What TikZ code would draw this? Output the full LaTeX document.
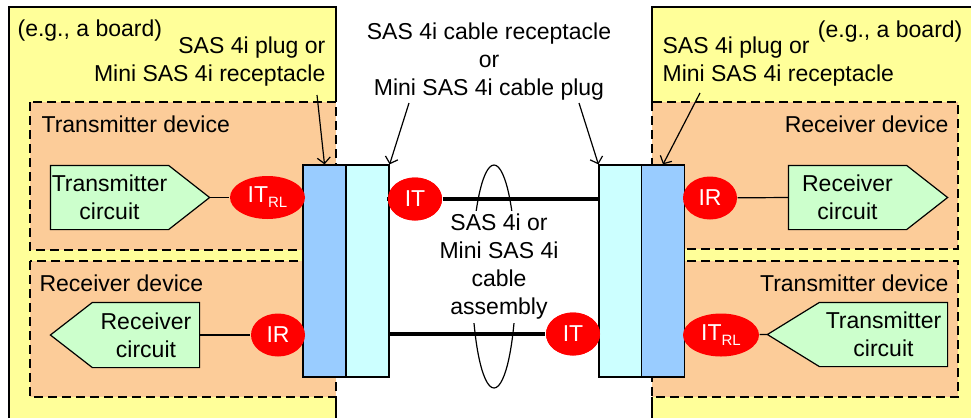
\documentclass[tikz,border=0pt]{standalone}
\usepackage{fontspec}
\setmainfont{Liberation Sans}
\usetikzlibrary{shapes.geometric,arrows.meta}
\definecolor{boardyellow}{RGB}{255,255,153}
\definecolor{devorange}{RGB}{252,204,153}
\definecolor{circgreen}{RGB}{204,255,204}
\definecolor{plugblue}{RGB}{153,204,255}
\definecolor{rcptcyan}{RGB}{204,255,255}
\begin{document}
\begin{tikzpicture}[x=1pt, y=-1pt, >={Straight Barb[length=6pt,width=13pt]}, line width=1.2pt,
	every node/.style={font=\fontsize{23}{28}\selectfont, inner sep=0pt},
	device/.style={fill=devorange, draw, line width=1.6pt, dash pattern=on 9pt off 5pt},
	plug/.style={fill=plugblue, draw, minimum width=43pt, minimum height=212pt},
	rcpt/.style={fill=rcptcyan, draw, minimum width=43pt, minimum height=212pt},
	circbox/.style={minimum height=63pt},
	circ/.style={fill=circgreen, draw, line join=miter},
	probe/.style={ellipse, fill=red, text=white, minimum height=43pt},
	cable/.style={line width=3.5pt}]
	\useasboundingbox (0,0) rectangle (971,418);
	
	% 1. 板卡底色与实线边框
	\fill[boardyellow] (9,7) rectangle (336,418);
	\draw (9,418) -- (9,7) -- (336,7) -- (336,102);
	\draw (336,250) -- (336,261) (336,397) -- (336,418);
	\fill[boardyellow] (652,7) rectangle (971,418);
	\draw (652,102) -- (652,7) -- (971,7);
	\draw (652,249) -- (652,261) (652,397) -- (652,418);
	
	% 2. 器件虚线框
	\draw[device] (30,102) rectangle (336,250);
	\draw[device] (30,261) rectangle (336,397);
	\draw[device] (652,102) rectangle (958,249);
	\draw[device] (652,261) rectangle (958,397);
	\node[anchor=west] (ltxdev) at (41,124) {Transmitter device};
	\node[anchor=west] (lrxdev) at (39,283) {Receiver device};
	\node[anchor=east] (rrxdev) at (949,124) {Receiver device};
	\node[anchor=east] (rtxdev) at (949,283) {Transmitter device};
	
	% 3. 插头与插座
	\node[plug] (lplug) at (324.5,271) {};
	\node[rcpt] (lrcpt) at (367.5,271) {};
	\node[rcpt] (rrcpt) at (620.5,271) {};
	\node[plug] (rplug) at (663,271) {};
	
	% 4. 线缆组件 (椭圆环被文字遮住中段)
	\draw (494,276.5) ellipse [x radius=22, y radius=111.5];
	\node[fill=white, inner sep=3pt, align=center] (cabletxt) at (499,267) {SAS 4i or\\Mini SAS 4i\\cable\\assembly};
	\node[probe, minimum width=54pt] (lit) at (415,199) {IT};
	\node[probe, minimum width=54pt] (rit) at (573,334) {IT};
	\draw[cable] (lrcpt.east |- lit) -- (lit);
	\draw[cable] (lit) -- (rrcpt.west |- lit);
	\draw[cable] (lrcpt.east |- rit) -- (rit);
	\node[probe, minimum width=54pt] at (rit) {IT};
	\node[probe, minimum width=54pt] at (lit) {IT};
	
	% 5. 收发电路 (五边形箭头) 与测试点
	\node[circbox, minimum width=117pt] (ltx) at (109.5,197.5) {};
	\coordinate (ltxtip) at ([xshift=41pt]ltx.east);
	\draw[circ] (ltx.north west) -- (ltx.north east) -- (ltxtip) -- (ltx.south east) -- (ltx.south west) -- cycle;
	\node[align=center] (ltxtxt) at (ltx) {Transmitter\\circuit};
	
	\node[circbox, minimum width=106pt, minimum height=64pt] (lrx) at (146,335) {};
	\coordinate (lrxtip) at ([xshift=-42pt]lrx.west);
	\draw[circ] (lrx.north east) -- (lrx.north west) -- (lrxtip) -- (lrx.south west) -- (lrx.south east) -- cycle;
	\node[align=center] (lrxtxt) at (lrx) {Receiver\\circuit};
	
	\node[circbox, minimum width=117pt] (rrx) at (847.5,197.5) {};
	\coordinate (rrxtip) at ([xshift=41pt]rrx.east);
	\draw[circ] (rrx.north west) -- (rrx.north east) -- (rrxtip) -- (rrx.south east) -- (rrx.south west) -- cycle;
	\node[align=center] (rrxtxt) at (rrx) {Receiver\\circuit};
	
	\node[circbox, minimum width=127pt] (rtx) at (883.5,334.5) {};
	\coordinate (rtxtip) at ([xshift=-52pt]rtx.west);
	\draw[circ] (rtx.north east) -- (rtx.north west) -- (rtxtip) -- (rtx.south west) -- (rtx.south east) -- cycle;
	\node[align=center] (rtxtxt) at (rtx) {Transmitter\\circuit};
	
	\node[probe, minimum width=75pt] (litrl) at (267.5,197.5) {IT\raisebox{-5pt}{\fontsize{15}{15}\selectfont RL}};
	\node[probe, minimum width=54pt] (lir) at (278,335) {IR};
	\node[probe, minimum width=54pt] (rir) at (710,198) {IR};
	\node[probe, minimum width=76pt] (ritrl) at (721,335) {IT\raisebox{-5pt}{\fontsize{15}{15}\selectfont RL}};
	\draw (ltxtip) -- (litrl);
	\draw (lrx.east) -- (lir);
	\draw (rir) -- (rrx.west);
	\draw (ritrl) -- (rtxtip);
	
	% 6. 标注文字与指示箭头
	\node[anchor=west] (lboard) at (17,31) {(e.g., a board)};
	\node[anchor=east] (rboard) at (963,32) {(e.g., a board)};
	\node[anchor=east, align=right] (lplugtxt) at (326,61.5) {SAS 4i plug or\\Mini SAS 4i receptacle};
	\node[anchor=west, align=left] (rplugtxt) at (662,61.5) {SAS 4i plug or\\Mini SAS 4i receptacle};
	\node[align=center] (rcpttxt) at (489,62) {SAS 4i cable receptacle\\or\\Mini SAS 4i cable plug};
	\coordinate (lplugarr) at (317,95);
	\coordinate (rplugarr) at (700,93);
	\coordinate (lrcptarr) at (409,103);
	\coordinate (rrcptarr) at (579,103);
	\draw[->] (lplugarr) -- (lplug.north);
	\draw[->] (rplugarr) -- (rplug.north);
	\draw[->] (lrcptarr) -- (lrcpt.north east);
	\draw[->] (rrcptarr) -- (rrcpt.north west);
\end{tikzpicture}
\end{document}
